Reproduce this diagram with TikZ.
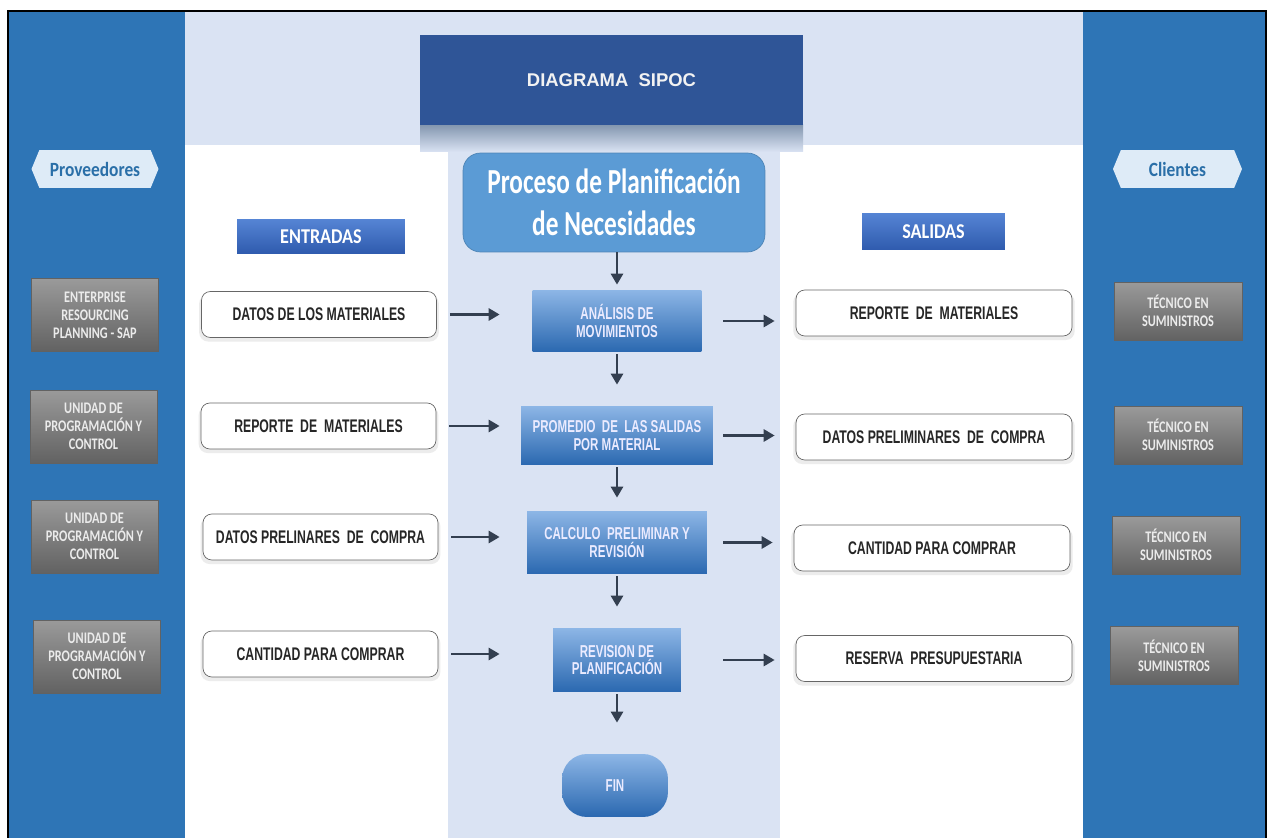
\documentclass[tikz,border=0pt]{standalone}
\usepackage{fontspec}
\setmainfont{Carlito}
\newfontfamily\arialfont{Liberation Sans}
\newfontfamily\narrowfont[FakeStretch=0.67]{Liberation Sans}
\newfontfamily\calnarrow[FakeStretch=0.86]{Carlito}
\newfontfamily\calthin[FakeStretch=0.76]{Carlito}
\newfontfamily\calcond[FakeStretch=0.72]{Carlito}
\usetikzlibrary{positioning,arrows.meta,shapes.symbols,shadows}

\definecolor{panelblue}{HTML}{2E75B6}
\definecolor{bandblue}{HTML}{DAE3F3}
\definecolor{titleblue}{HTML}{2F5597}
\definecolor{titleshade}{HTML}{8497B0}
\definecolor{procfill}{HTML}{5B9BD5}
\definecolor{steptop}{HTML}{8DB6E6}
\definecolor{stepbot}{HTML}{2A68B0}
\definecolor{headtop}{HTML}{5584D4}
\definecolor{headbot}{HTML}{2F5BAE}
\definecolor{graytop}{HTML}{9A9A9A}
\definecolor{graymid}{HTML}{B5B5B5}
\definecolor{graybot}{HTML}{626262}
\definecolor{tagfill}{HTML}{DEEBF7}
\definecolor{tagtext}{HTML}{2A6FA8}
\definecolor{arrowgray}{HTML}{333F50}

\begin{document}
\begin{tikzpicture}[
  x=0.02cm, y=-0.02cm,
  iobox/.style={draw=black!60, rounded corners=5pt, fill=white, minimum width=4.7cm, minimum height=0.92cm, align=center,
    font=\narrowfont\bfseries\fontsize{10.4}{12}\selectfont, text=black!85,
    drop shadow={shadow xshift=0pt, shadow yshift=-2pt, opacity=0.15, shadow scale=1.02}},
  stepbox/.style={top color=steptop, bottom color=stepbot, draw=none, minimum height=1.24cm, align=center,
    font=\narrowfont\bfseries\fontsize{9.8}{10}\selectfont, text=white!92!blue},
  graybox/.style={top color=graytop, middle color=graymid, bottom color=graybot, draw=graybot, minimum width=2.54cm,
    minimum height=1.46cm, align=center, font=\calthin\bfseries\fontsize{9.2}{10.2}\selectfont, text=white!92!black},
  headbox/.style={top color=headtop, bottom color=headbot, draw=none, minimum height=0.68cm,
    font=\calnarrow\bfseries\fontsize{12}{14}\selectfont, text=white},
  tag/.style={signal, signal to=west and east, signal pointer angle=135, fill=tagfill, draw=none,
    minimum width=2.54cm, minimum height=0.76cm, font=\calnarrow\bfseries\fontsize{11.5}{13}\selectfont, text=tagtext},
  flow/.style={-{Triangle[length=2.2mm,width=2.4mm]}, line width=1.6pt, draw=arrowgray}
]
\useasboundingbox (0,0) rectangle (1269,838);
\fill[white] (0,0) rectangle (1269,838);
\fill[panelblue] (8,11) rectangle (185,838);
\fill[panelblue] (1083,11) rectangle (1266,838);
\fill[bandblue] (185,11) rectangle (1083,145);
\fill[bandblue] (448,148) rectangle (780,838);
\draw[line width=1.5pt] (8,838) -- (8,11) -- (1266,11) -- (1266,838);
\shade[top color=titleshade, bottom color=bandblue] (420,125) rectangle (803,152);

\node[fill=titleblue, minimum width=7.66cm, minimum height=1.8cm, text=white!95!black,
  font=\arialfont\bfseries\fontsize{10.5}{12}\selectfont] (title) at (611.5,80) {DIAGRAMA\ \ SIPOC};
\node[fill=procfill, draw=procfill!85!black, rounded corners=10pt, minimum width=6.04cm, minimum height=1.98cm,
  align=center, text=white, font=\calcond\bfseries\fontsize{20}{24}\selectfont] (p0) at (614,202.5)
  {Proceso de Planificación\\de Necesidades};

\node[headbox, minimum width=3.36cm] (entradas) at (321,236.5) {ENTRADAS};
\node[headbox, minimum width=2.86cm, minimum height=0.74cm] (salidas) at (933.5,231.5) {SALIDAS};
\node[tag] (prov) at (95,169) {Proveedores};
\node[tag, minimum width=2.58cm] (clientes) at (1177.5,169) {Clientes};

\node[graybox] (s1) at (95,315) {ENTERPRISE\\RESOURCING\\PLANNING - SAP};
\node[graybox] (s2) at (93.5,426.5) {UNIDAD DE\\PROGRAMACIÓN Y\\CONTROL};
\node[graybox] (s3) at (94.5,536.5) {UNIDAD DE\\PROGRAMACIÓN Y\\CONTROL};
\node[graybox] (s4) at (97,656.5) {UNIDAD DE\\PROGRAMACIÓN Y\\CONTROL};

\node[iobox] (in1) at (319,314.5) {DATOS DE LOS MATERIALES};
\node[iobox] (in2) at (318.5,426) {REPORTE\ \ DE\ \ MATERIALES};
\node[iobox] (in3) at (320.5,537) {DATOS PRELINARES\ \ DE\ \ COMPRA};
\node[iobox] (in4) at (320.5,654) {CANTIDAD PARA COMPRAR};

\node[stepbox, minimum width=3.38cm] (p1) at (617,321) {ANÁLISIS DE\\MOVIMIENTOS};
\node[stepbox, minimum width=3.84cm, minimum height=1.18cm] (p2) at (617,435.5) {PROMEDIO\ \ DE\ \ LAS SALIDAS\\POR MATERIAL};
\node[stepbox, minimum width=3.6cm, minimum height=1.26cm] (p3) at (617,542.5) {CALCULO\ \ PRELIMINAR Y\\REVISIÓN};
\node[stepbox, minimum width=2.56cm, minimum height=1.28cm] (p4) at (617,660) {REVISION DE\\PLANIFICACIÓN};
\node[stepbox, minimum width=2.12cm, minimum height=1.26cm, rounded corners=0.5cm] (fin) at (615,785.5) {FIN};

\node[iobox, minimum width=5.52cm] (out1) at (934,313) {REPORTE\ \ DE\ \ MATERIALES};
\node[iobox, minimum width=5.52cm] (out2) at (934,437) {DATOS PRELIMINARES\ \ DE\ \ COMPRA};
\node[iobox, minimum width=5.52cm] (out3) at (932,548) {CANTIDAD PARA COMPRAR};
\node[iobox, minimum width=5.52cm] (out4) at (934,658.5) {RESERVA\ \ PRESUPUESTARIA};

\node[graybox, minimum width=2.56cm, minimum height=1.16cm] (c1) at (1178,311) {TÉCNICO EN\\SUMINISTROS};
\node[graybox, minimum width=2.56cm, minimum height=1.16cm] (c2) at (1178,435) {TÉCNICO EN\\SUMINISTROS};
\node[graybox, minimum width=2.56cm, minimum height=1.16cm] (c3) at (1176,545) {TÉCNICO EN\\SUMINISTROS};
\node[graybox, minimum width=2.56cm, minimum height=1.16cm] (c4) at (1174,655.5) {TÉCNICO EN\\SUMINISTROS};

\draw[flow, shorten >=0.1cm] (p0.south -| p1) -- (p1);
\foreach \a/\b/\s in {p1/p2/0.42cm, p2/p3/0.26cm, p3/p4/0.42cm, p4/fin/0.62cm}
  \draw[flow, shorten <=0.04cm, shorten >=\s] (\a) -- (\a |- \b.north);
\foreach \i/\s in {1/0.65cm, 2/0.42cm, 3/0.54cm, 4/1.06cm}
  \draw[flow, shorten <=0.26cm, shorten >=\s] (in\i) -- (in\i -| p\i.west);
\foreach \i/\s in {1/0.43cm, 2/0.2cm, 3/0.32cm, 4/0.84cm}
  \draw[flow, shorten <=\s, shorten >=0.42cm] (p\i) -- (p\i -| out\i.west);
\end{tikzpicture}
\end{document}
